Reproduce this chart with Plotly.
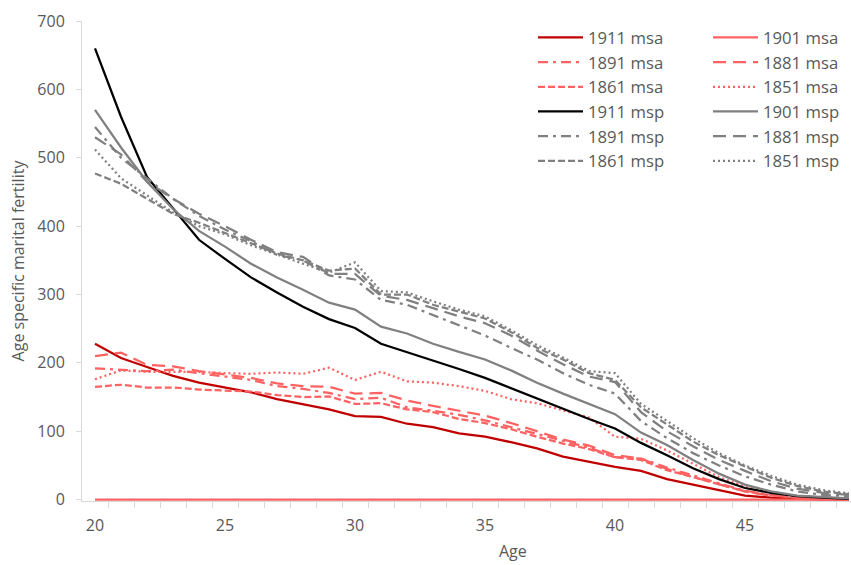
import plotly.graph_objects as go

ages = [20, 21, 22, 23, 24, 25, 26, 27, 28, 29, 30, 31, 32, 33, 34,
        35, 36, 37, 38, 39, 40, 41, 42, 43, 44, 45, 46, 47, 48, 49]

msa_1911 = [228, 207, 194, 181, 171, 164, 157, 147, 140, 132, 122, 121, 111, 106, 97,
            92, 84, 75, 63, 55, 48, 42, 30, 22, 14, 6, 3, 1, 0.5, 0]
msa_1901 = [0, 0, 0, 0, 0, 0, 0, 0, 0, 0, 0, 0, 0, 0, 0,
            0, 0, 0, 0, 0, 0, 0, 0, 0, 0, 0, 0, 0, 0, 0]
msa_1891 = [192, 190, 188, 190, 185, 180, 175, 166, 162, 156, 147, 149, 135, 130, 124,
            116, 106, 96, 85, 76, 62, 60, 47, 35, 24, 13, 7, 3, 1, 0]
msa_1881 = [210, 215, 197, 195, 188, 183, 178, 170, 166, 165, 155, 156, 145, 137, 130,
            123, 112, 100, 88, 79, 65, 60, 45, 33, 22, 12, 6, 3, 1, 0]
msa_1861 = [165, 168, 164, 164, 161, 160, 158, 153, 150, 151, 140, 141, 132, 128, 118,
            112, 103, 92, 82, 74, 62, 58, 43, 33, 22, 12, 6, 3, 1, 1]
msa_1851 = [176, 189, 187, 187, 187, 185, 184, 186, 184, 193, 175, 187, 173, 171, 166,
            159, 147, 141, 131, 120, 92, 89, 72, 52, 33, 19, 10, 5, 2, 1]

msp_1911 = [660, 560, 472, 426, 380, 352, 325, 303, 282, 264, 251, 228, 216, 203, 191,
            178, 163, 147, 132, 118, 104, 83, 65, 46, 30, 17, 10, 5, 3, 1]
msp_1901 = [570, 515, 465, 425, 393, 370, 345, 325, 307, 288, 278, 253, 243, 228, 216,
            205, 189, 171, 155, 140, 125, 98, 80, 58, 38, 22, 12, 6, 4, 2]
msp_1891 = [545, 500, 470, 440, 415, 395, 378, 358, 350, 328, 322, 292, 285, 270, 255,
            240, 222, 205, 185, 168, 155, 115, 90, 68, 50, 34, 22, 12, 7, 5]
msp_1881 = [530, 505, 465, 440, 418, 400, 380, 362, 355, 330, 330, 298, 292, 280, 268,
            258, 240, 218, 198, 180, 172, 128, 100, 78, 58, 42, 27, 16, 10, 7]
msp_1861 = [477, 462, 440, 418, 405, 390, 375, 360, 350, 335, 338, 300, 300, 285, 275,
            265, 245, 222, 205, 185, 175, 135, 110, 85, 65, 48, 32, 20, 12, 8]
msp_1851 = [512, 470, 445, 420, 400, 388, 372, 358, 345, 332, 347, 305, 303, 290, 278,
            268, 248, 226, 208, 188, 185, 140, 115, 90, 68, 50, 35, 22, 14, 9]

x_tick_labels = [20, 25, 30, 35, 40, 45]
x_minor_ticks = [20.5, 21.5, 22.5, 23.5, 24.5, 25.5, 26.5, 27.5, 28.5, 29.5, 30.5, 31.5,
                 32.5, 33.5, 34.5, 35.5, 36.5, 37.5, 38.5, 39.5, 40.5, 41.5, 42.5, 43.5,
                 44.5, 45.5, 46.5, 47.5, 48.5]

DARK_RED = "#C00000"
LIGHT_RED = "#FF6262"
GRAY = "#808080"
BLACK = "#000000"
TXT = "#595959"
AX = "#D9D9D9"

DASHDOT = "10px,5px,3px,5px"
LONGDASH = "13px,7px"
DASH = "7px,3px"
DOT = "2px,3px"

series = [
    ("1911 msa", msa_1911, DARK_RED, "solid", "legend"),
    ("1901 msa", msa_1901, LIGHT_RED, "solid", "legend2"),
    ("1891 msa", msa_1891, LIGHT_RED, DASHDOT, "legend"),
    ("1881 msa", msa_1881, LIGHT_RED, LONGDASH, "legend2"),
    ("1861 msa", msa_1861, LIGHT_RED, DASH, "legend"),
    ("1851 msa", msa_1851, LIGHT_RED, DOT, "legend2"),
    ("1911 msp", msp_1911, BLACK, "solid", "legend"),
    ("1901 msp", msp_1901, GRAY, "solid", "legend2"),
    ("1891 msp", msp_1891, GRAY, DASHDOT, "legend"),
    ("1881 msp", msp_1881, GRAY, LONGDASH, "legend2"),
    ("1861 msp", msp_1861, GRAY, DASH, "legend"),
    ("1851 msp", msp_1851, GRAY, DOT, "legend2"),
]

fig = go.Figure()
for name, vals, color, dash, leg in series:
    fig.add_trace(go.Scatter(
        x=ages, y=vals, mode="lines", name=name,
        line=dict(color=color, width=2.25, dash=dash),
        legend=leg,
    ))

W, H = 851, 565
ML, MR, MT, MB = 82, 0, 21, 64
pw = W - ML - MR
ph = H - MT - MB
Y0 = -2.0  # small pad so the zero line is not clipped by the plot edge
YMAX = 700

font = dict(family="Open Sans", size=16, color=TXT)
legfont = dict(family="Open Sans", size=16.7, color=TXT)

legend_common = dict(
    font=legfont, bgcolor="rgba(0,0,0,0)", borderwidth=0,
    xanchor="left", yanchor="top", itemwidth=45,
    xref="paper", yref="paper",
)

def py(pix):
    return (MT + ph - pix) / ph

fig.update_layout(
    width=W, height=H,
    margin=dict(l=ML, r=MR, t=MT, b=MB, pad=0),
    paper_bgcolor="white", plot_bgcolor="white",
    font=font,
    showlegend=True,
    legend=dict(x=(533 - ML) / pw, y=py(20), **legend_common),
    legend2=dict(x=(708 - ML) / pw, y=py(20), **legend_common),
    xaxis=dict(
        range=[19.5, 19.5 + pw / 26.0],
        showgrid=False, zeroline=False,
        showline=True, linecolor=AX, linewidth=1,
        tickmode="array", tickvals=x_tick_labels,
        ticks="", tickfont=font,
        ticklabelstandoff=10,
        minor=dict(tickmode="array", tickvals=x_minor_ticks, ticks="outside",
                   ticklen=6, tickcolor=AX, showgrid=False),
        layer="below traces",
    ),
    yaxis=dict(
        range=[Y0, YMAX],
        showgrid=False, zeroline=False,
        showline=True, linecolor=AX, linewidth=1,
        tickmode="linear", tick0=0, dtick=100,
        ticks="outside", ticklen=5, tickcolor=AX,
        tickfont=font,
        ticklabelstandoff=8,
        title=dict(text="Age specific marital fertility", font=font, standoff=8),
        layer="below traces",
    ),
    annotations=[
        dict(text="Age", xref="paper", yref="paper",
             x=(513 - ML) / pw, y=py(551),
             xanchor="center", yanchor="middle", showarrow=False, font=font),
    ],
)

fig.write_html("out.html")
